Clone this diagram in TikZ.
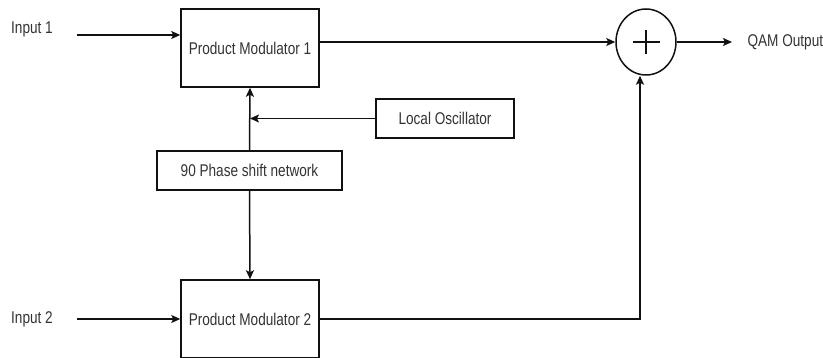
\documentclass[tikz,border=0pt]{standalone}
\usepackage{fontspec}
\setmainfont{Liberation Sans}[FakeStretch=0.8]
\usepackage{xcolor}
\usepackage{tikz}
\usetikzlibrary{arrows.meta, positioning, shapes.geometric}
\definecolor{qline}{HTML}{111111}
\definecolor{qtext}{HTML}{333333}

\begin{document}
\begin{tikzpicture}[x=1pt, y=-1pt,
      every node/.style={font=\fontsize{17}{19}\selectfont, text=qtext, align=center},
      modbox/.style={rectangle, draw=qline, line width=1.5pt, minimum width=138pt, minimum height=78pt, inner sep=0pt},
      smallbox/.style={rectangle, draw=qline, line width=1.5pt, minimum height=39pt, inner sep=0pt},
      summer/.style={ellipse, draw=qline, line width=1.5pt, minimum width=60pt, minimum height=66pt, inner sep=0pt},
      arr/.style={-{Stealth[length=9pt, width=8pt, inset=2pt]}, line width=1.5pt, draw=qline}
    ]
    \useasboundingbox (0,0) rectangle (823,358);

    \node (in1lbl) at (32,29) {Input 1};
    \node (in2lbl) at (32,319) {Input 2};
    \coordinate (in1) at (77,35);
    \coordinate (in2) at (77,319);

    \node[modbox] (pm1) at (250,48) {Product Modulator 1};
    \node[modbox] (pm2) at (250,319) {Product Modulator 2};
    \node[smallbox, minimum width=185pt] (phase) at (249.5,170.5) {90 Phase shift network};
    \node[smallbox, minimum width=138pt] (lo) at (445,118.5) {Local Oscillator};

    \node[summer] (sum) at (646,42) {};
    \draw[line width=1.8pt, qline] ([xshift=-13.5pt]sum.center) -- ([xshift=13.5pt]sum.center);
    \draw[line width=1.8pt, qline] ([yshift=12pt]sum.center) -- ([yshift=-12pt]sum.center);

    \node[anchor=west] (qam) at (744,42) {QAM Output};
    \coordinate (out) at (732,42);
    \coordinate (up) at (640,319);

    \draw[arr] (in1) -- (in1 -| pm1.west);
    \draw[arr] (in2) -- (pm2.west);
    \draw[arr] (phase.north) -- (pm1.south);
    \draw[arr] (lo.west) -- (lo.west -| pm1.south);
    \draw[arr] (phase.south) -- (pm2.north);
    \draw[arr] (sum.west -| pm1.east) -- (sum.west);
    \draw[arr] (pm2.east) -- (up) -- (up |- sum.south);
    \draw[arr] (sum.east) -- (out);
  \end{tikzpicture}
\end{document}
